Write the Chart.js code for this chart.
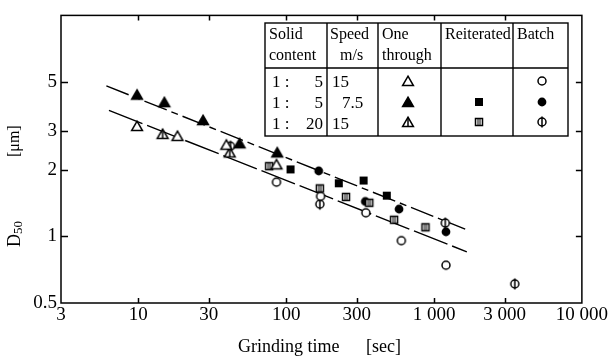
<!DOCTYPE html>
<html><head><meta charset="utf-8">
<script src="https://cdn.jsdelivr.net/npm/chart.js@4.4.0/dist/chart.umd.min.js"></script>
<style>
html,body{margin:0;padding:0;background:#fff;}
canvas{display:block;}
</style></head>
<body>
<canvas id="c" width="609" height="361"></canvas>
<script>
// ---- tick values / labels ----
const xTicks = [3, 10, 30, 100, 300, 1000, 3000, 10000];
const xTickLabels = ['3', '10', '30', '100', '300', '1 000', '3 000', '10 000'];
const yTicks = [0.5, 1, 2, 3, 5];
const yTickLabels = ['0.5', '1', '2', '3', '5'];

// ---- series (grinding time [sec], D50 [um]) ----
const oneThrough_1to5_15  = [[9.8,3.16],[18.4,2.85],[39.4,2.60],[86,2.12]];
const oneThrough_1to5_7_5 = [[9.8,4.38],[15.0,4.05],[27.4,3.36],[48.4,2.64],[87,2.40]];
const oneThrough_1to20_15 = [[14.6,2.91],[41.5,2.40]];
const reiterated_1to5_7_5 = [[107,2.01],[227,1.74],[334,1.79],[479,1.53]];
const reiterated_1to20_15 = [[76.7,2.08],[169,1.65],[254,1.51],[365,1.42],[537,1.19],[875,1.10]];
const batch_1to5_15       = [[86,1.76],[171,1.52],[346,1.28],[601,0.957],[1205,0.741]];
const batch_1to5_7_5      = [[166,1.98],[343,1.44],[580,1.33],[1205,1.05]];
const batch_1to20_15      = [[42,2.56],[169,1.40],[1192,1.15],[3518,0.61]];
const upperLine = [[6.08,4.80],[1625,1.08]];
const lowerLine = [[6.33,3.72],[1667,0.852]];

const FONT = '"Liberation Serif","Times New Roman","DejaVu Serif",serif';

// ---- marker images ----
function mk(kind){
  const s=16, c=document.createElement('canvas'); c.width=s; c.height=s;
  const g=c.getContext('2d'); g.lineWidth=1.5; g.strokeStyle='#000'; g.fillStyle='#fff';
  const tri=()=>{g.beginPath(); g.moveTo(8,3.2); g.lineTo(13.4,12.6); g.lineTo(2.6,12.6); g.closePath();};
  switch(kind){
    case 'openTri': tri(); g.fill(); g.stroke(); break;
    case 'fillTri': g.fillStyle='#000'; tri(); g.fill(); g.stroke(); break;
    case 'lineTri': tri(); g.fill(); g.stroke(); g.beginPath(); g.moveTo(8,3.5); g.lineTo(8,12.5); g.stroke(); break;
    case 'fillSq': g.fillStyle='#000'; g.fillRect(4,4,8,8); break;
    case 'lineSq': g.fillRect(4,4,8,8); g.strokeRect(4.5,4.5,7,7);
      g.fillStyle='#000'; g.fillRect(6.5,4.5,1,7); g.fillRect(8.5,4.5,1,7); break;
    case 'openCirc': g.beginPath(); g.arc(8,8,4,0,Math.PI*2); g.fill(); g.stroke(); break;
    case 'fillCirc': g.fillStyle='#000'; g.beginPath(); g.arc(8,8,4.4,0,Math.PI*2); g.fill(); break;
    case 'lineCirc': g.beginPath(); g.arc(8,8,4,0,Math.PI*2); g.fill(); g.stroke();
      g.beginPath(); g.moveTo(8,2.5); g.lineTo(8,13.5); g.stroke(); break;
  }
  return c;
}
const M = {};
['openTri','fillTri','lineTri','fillSq','lineSq','openCirc','fillCirc','lineCirc'].forEach(k=>M[k]=mk(k));

const pts = a => a.map(([x,y])=>({x,y}));
function ser(label, arr, style){
  return {label, data:pts(arr), pointStyle:M[style], pointRadius:6, showLine:false, order:1};
}
function fit(label, arr, dash){
  return {label, data:pts(arr), showLine:true, borderColor:'#000', borderWidth:1.4, borderDash:dash,
          pointRadius:0, fill:false, order:10};
}

// ---- frame, ticks, titles, legend table ----
const decor = {
  id:'decor',
  afterDraw(chart){
    const ctx=chart.ctx, a=chart.chartArea, xs=chart.scales.x, ys=chart.scales.y;
    ctx.save();
    ctx.strokeStyle='#000'; ctx.lineWidth=1.5;
    ctx.strokeRect(a.left,a.top,a.right-a.left,a.bottom-a.top);
    ctx.beginPath();
    xTicks.slice(1,-1).forEach(v=>{const p=Math.round(xs.getPixelForValue(v))+0.5;
      ctx.moveTo(p,a.bottom); ctx.lineTo(p,a.bottom-5); ctx.moveTo(p,a.top); ctx.lineTo(p,a.top+5);});
    yTicks.slice(1).forEach(v=>{const p=Math.round(ys.getPixelForValue(v))+0.5;
      ctx.moveTo(a.left,p); ctx.lineTo(a.left+7,p); ctx.moveTo(a.right,p); ctx.lineTo(a.right-6,p);});
    ctx.stroke();

    ctx.fillStyle='#000';
    // x title
    ctx.font='18px '+FONT; ctx.textBaseline='alphabetic'; ctx.textAlign='left';
    ctx.fillText('Grinding time',238,352);
    ctx.fillText('[sec]',366,352);
    // y title (rotated)
    ctx.save(); ctx.translate(20,247); ctx.rotate(-Math.PI/2);
    ctx.font='18px '+FONT; ctx.fillText('D',0,0); const w=ctx.measureText('D').width;
    ctx.font='13px '+FONT; ctx.fillText('50',w,2);
    ctx.restore();
    ctx.save(); ctx.translate(19,157); ctx.rotate(-Math.PI/2);
    ctx.font='16px '+FONT; ctx.fillText('[\u03bcm]',0,0);
    ctx.restore();

    // legend table
    const L=265,R=568,T=23,HB=68,B=136, cols=[327,378,441,513];
    ctx.fillStyle='#fff'; ctx.fillRect(L,T,R-L,B-T);
    ctx.lineWidth=1.4; ctx.strokeStyle='#000';
    ctx.strokeRect(L,T,R-L,B-T);
    ctx.beginPath(); ctx.moveTo(L,HB); ctx.lineTo(R,HB);
    cols.forEach(c=>{ctx.moveTo(c,T); ctx.lineTo(c,B);}); ctx.stroke();
    ctx.fillStyle='#000'; ctx.font='16px '+FONT; ctx.textAlign='left';
    ctx.fillText('Solid',269,39); ctx.fillText('content',269,60);
    ctx.fillText('Speed',330,39); ctx.fillText('m/s',340,60);
    ctx.fillText('One',382,39); ctx.fillText('through',382,60);
    ctx.fillText('Reiterated',445,39);
    ctx.fillText('Batch',517,39);
    ctx.font='17px '+FONT;
    const rows=[[87,'5','15'],[108,'5','7.5'],[129,'20','15']];
    rows.forEach(([y,n,sp])=>{
      ctx.textAlign='left'; ctx.fillText('1 :',272,y);
      ctx.textAlign='right'; ctx.fillText(n,323,y);
      ctx.textAlign='left'; ctx.fillText(sp, sp==='7.5'?342:332, y);
    });
    const mrow=[81,102,122];
    const put=(k,x,y)=>ctx.drawImage(M[k],x-8,y-8);
    put('openTri',408,mrow[0]); put('fillTri',408,mrow[1]); put('lineTri',408,mrow[2]);
    put('fillSq',479,mrow[1]); put('lineSq',479,mrow[2]);
    put('openCirc',542,mrow[0]); put('fillCirc',542,mrow[1]); put('lineCirc',542,mrow[2]);
    ctx.restore();
  }
};

new Chart(document.getElementById('c'), {
  type:'scatter',
  data:{datasets:[
    fit('Upper fit', upperLine, [24,5,7,5]),
    fit('Lower fit', lowerLine, [36,5]),
    ser('One through 1:5 15 m/s', oneThrough_1to5_15, 'openTri'),
    ser('One through 1:5 7.5 m/s', oneThrough_1to5_7_5, 'fillTri'),
    ser('One through 1:20 15 m/s', oneThrough_1to20_15, 'lineTri'),
    ser('Reiterated 1:5 7.5 m/s', reiterated_1to5_7_5, 'fillSq'),
    ser('Reiterated 1:20 15 m/s', reiterated_1to20_15, 'lineSq'),
    ser('Batch 1:5 15 m/s', batch_1to5_15, 'openCirc'),
    ser('Batch 1:5 7.5 m/s', batch_1to5_7_5, 'fillCirc'),
    ser('Batch 1:20 15 m/s', batch_1to20_15, 'lineCirc'),
  ]},
  options:{
    responsive:false, animation:false, devicePixelRatio:1,
    layout:{padding:{left:0,right:23,top:10,bottom:0}},
    plugins:{legend:{display:false}, tooltip:{enabled:false}},
    scales:{
      x:{type:'logarithmic', min:3, max:10000,
        afterBuildTicks:s=>{s.ticks=xTicks.map(v=>({value:v}));},
        afterFit:s=>{s.height=58;},
        grid:{display:false, drawTicks:false}, border:{display:false},
        ticks:{autoSkip:false, maxRotation:0, padding:1, color:'#000',
          font:{family:FONT,size:19},
          callback:(v,i)=>xTickLabels[i]}},
      y:{type:'logarithmic', min:0.5, max:10,
        afterBuildTicks:s=>{s.ticks=yTicks.map(v=>({value:v}));},
        afterFit:s=>{s.width=61;},
        grid:{display:false, drawTicks:false}, border:{display:false},
        ticks:{autoSkip:false, padding:4, color:'#000',
          font:{family:FONT,size:19},
          callback:(v,i)=>yTickLabels[i]}}
    }
  },
  plugins:[decor]
});
</script>
</body></html>
